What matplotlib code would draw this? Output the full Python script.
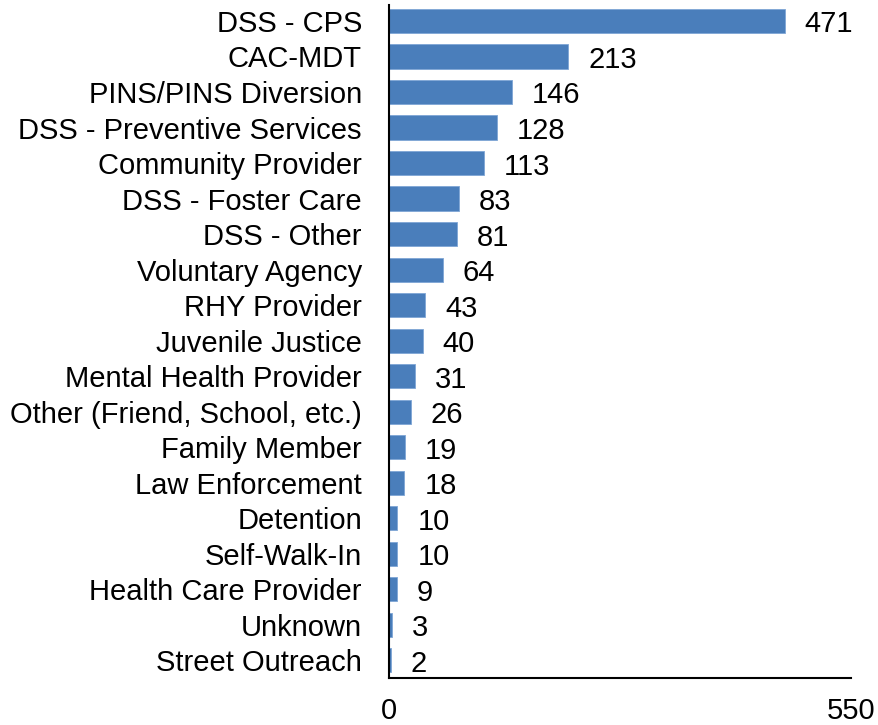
import matplotlib
matplotlib.use("Agg")
import matplotlib.pyplot as plt

categories = ["DSS - CPS", "CAC-MDT", "PINS/PINS Diversion", "DSS - Preventive Services",
              "Community Provider", "DSS - Foster Care", "DSS - Other", "Voluntary Agency",
              "RHY Provider", "Juvenile Justice", "Mental Health Provider",
              "Other (Friend, School, etc.)", "Family Member", "Law Enforcement",
              "Detention", "Self-Walk-In", "Health Care Provider", "Unknown", "Street Outreach"]
values = [471, 213, 146, 128, 113, 83, 81, 64, 43, 40, 31, 26, 19, 18, 10, 10, 9, 3, 2]
xticks = [0, 550]

plt.rcParams['font.family'] = ['Liberation Sans', 'DejaVu Sans']
fig = plt.figure(figsize=(8.79, 7.25), dpi=100)
ax = fig.add_axes([389/879, 1-678/725, (851-389)/879, (678-5)/725])

y = list(range(len(categories)))
ax.barh(y, values, height=0.68, color='#4a7ebb', edgecolor='#7ea6d6', linewidth=0.6)
for yi, v in zip(y, values):
    ax.annotate(str(v), (v, yi), xytext=(14.5, -2.5), textcoords='offset points',
                ha='left', va='center', fontsize=21)

ax.set_ylim(18.5, -0.45)
ax.set_xlim(0, 550)
ax.set_xticks(xticks)
ax.set_xticklabels([str(t) for t in xticks], fontsize=21)
ax.set_yticks(y)
ax.set_yticklabels(categories, fontsize=21)
ax.tick_params(axis='both', length=0)
ax.tick_params(axis='x', pad=14)
ax.tick_params(axis='y', pad=19.5)
for s in ['top', 'right']:
    ax.spines[s].set_visible(False)
ax.spines['left'].set_linewidth(1.5)
ax.spines['bottom'].set_linewidth(1.5)

fig.savefig("out.png", dpi=100)
